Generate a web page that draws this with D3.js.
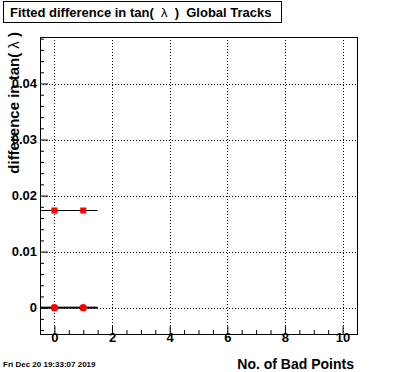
<!DOCTYPE html>
<html>
<head>
<script src="https://cdn.jsdelivr.net/npm/d3@7"></script>
<style>
  body { margin: 0; background: #fff; }
  text { font-family: "Liberation Sans", Arial, sans-serif; font-weight: bold; white-space: pre; }
  tspan.sym { font-weight: normal; }
</style>
</head>
<body>
<div id="chart"></div>
<script>
  // data
  var badPoints = [0, 1];
  var squareVals = [0.0174, 0.0174];   // red squares
  var circleVals = [0, 0];             // red circles
  var xErr = 0.5;

  var xTicks = [0, 2, 4, 6, 8, 10];
  var xTickLabels = ["0", "2", "4", "6", "8", "10"];
  var yTicks = [0, 0.01, 0.02, 0.03, 0.04];
  var yTickLabels = ["0", "0.01", "0.02", "0.03", "0.04"];

  var W = 396, H = 372;
  var frame = {left: 40, right: 357, top: 37, bottom: 334};

  var svg = d3.select("#chart").append("svg")
              .attr("width", W)
              .attr("height", H);

  var x = d3.scaleLinear().domain([-0.5, 10.5]).range([frame.left, frame.right]);
  var y = d3.scaleLinear().domain([-0.0047, 0.0483]).range([frame.bottom, frame.top]);

  // dotted grid at major ticks
  var grid = svg.append("g").attr("stroke", "#000").attr("stroke-width", 1)
                .attr("stroke-dasharray", "1,2");
  grid.selectAll(".gx").data(xTicks).enter().append("line")
      .attr("x1", function(d) { return Math.round(x(d)) + 0.5; })
      .attr("x2", function(d) { return Math.round(x(d)) + 0.5; })
      .attr("y1", frame.top).attr("y2", frame.bottom);
  grid.selectAll(".gy").data(yTicks).enter().append("line")
      .attr("y1", function(d) { return Math.round(y(d)) + 0.5; })
      .attr("y2", function(d) { return Math.round(y(d)) + 0.5; })
      .attr("x1", frame.left).attr("x2", frame.right);

  // minor ticks
  var xMinor = d3.range(-0.5, 10.51, 0.5).filter(function(v) { return xTicks.indexOf(v) < 0; });
  var yMinor = d3.range(-0.004, 0.0485, 0.002).filter(function(v) {
    return !yTicks.some(function(t) { return Math.abs(t - v) < 1e-9; });
  });

  var xAxis = svg.append("g")
      .attr("transform", "translate(0," + frame.bottom + ")")
      .call(d3.axisBottom(x).tickValues(xTicks).tickSize(-8).tickPadding(5)
              .tickFormat(function(d, i) { return xTickLabels[i]; }));
  xAxis.append("g").call(d3.axisBottom(x).tickValues(xMinor).tickSize(-4).tickFormat(""));

  var yAxis = svg.append("g")
      .attr("transform", "translate(" + frame.left + ",0)")
      .call(d3.axisLeft(y).tickValues(yTicks).tickSize(-8).tickPadding(3)
              .tickFormat(function(d, i) { return yTickLabels[i]; }));
  yAxis.append("g").call(d3.axisLeft(y).tickValues(yMinor).tickSize(-4).tickFormat(""));

  svg.selectAll(".domain").remove();
  svg.selectAll(".tick line").attr("stroke", "#000");
  xAxis.selectAll(".tick text").attr("font-size", 13).attr("fill", "#000").attr("dy", "0.2em");
  yAxis.selectAll(".tick text").attr("font-size", 13).attr("fill", "#000");

  // frame
  svg.append("rect")
     .attr("x", frame.left + 0.5).attr("y", frame.top + 0.5)
     .attr("width", frame.right - frame.left).attr("height", frame.bottom - frame.top)
     .attr("fill", "none").attr("stroke", "#000").attr("stroke-width", 1);

  // square series with x errors
  var sq = svg.append("g");
  sq.selectAll("line").data(badPoints).enter().append("line")
    .attr("x1", function(d) { return x(d - xErr); })
    .attr("x2", function(d) { return x(d + xErr); })
    .attr("y1", function(d, i) { return Math.round(y(squareVals[i])) + 0.5; })
    .attr("y2", function(d, i) { return Math.round(y(squareVals[i])) + 0.5; })
    .attr("stroke", "#000").attr("stroke-width", 1);
  sq.selectAll("rect").data(badPoints).enter().append("rect")
    .attr("x", function(d) { return x(d) - 3; })
    .attr("y", function(d, i) { return Math.round(y(squareVals[i])) + 0.5 - 3; })
    .attr("width", 6).attr("height", 6)
    .attr("fill", "#ff0000");

  // circle series with x errors
  var ci = svg.append("g");
  ci.selectAll("line").data(badPoints).enter().append("line")
    .attr("x1", function(d) { return x(d - xErr); })
    .attr("x2", function(d) { return x(d + xErr); })
    .attr("y1", function(d, i) { return y(circleVals[i]); })
    .attr("y2", function(d, i) { return y(circleVals[i]); })
    .attr("stroke", "#000").attr("stroke-width", 2);
  ci.selectAll("circle").data(badPoints).enter().append("circle")
    .attr("cx", function(d) { return x(d); })
    .attr("cy", function(d, i) { return y(circleVals[i]); })
    .attr("r", 3.7)
    .attr("fill", "#ff0000");

  // title box
  svg.append("rect")
     .attr("x", 3.5).attr("y", 1.5).attr("width", 278).attr("height", 21)
     .attr("fill", "#fff").attr("stroke", "#000");
  var title = svg.append("text")
     .attr("x", 10).attr("y", 16.5)
     .attr("font-size", 13);
  title.append("tspan").text("Fitted difference in tan( ");
  title.append("tspan").attr("class", "sym").text(" \u03bb ");
  title.append("tspan").text(" )  Global Tracks");

  // axis titles
  svg.append("text")
     .attr("x", frame.right - 3).attr("y", 369)
     .attr("text-anchor", "end")
     .attr("font-size", 14)
     .text("No. of Bad Points");

  var ylab = svg.append("text")
     .attr("transform", "translate(19,32) rotate(-90)")
     .attr("text-anchor", "end")
     .attr("font-size", 15);
  ylab.append("tspan").text("difference in tan( ");
  ylab.append("tspan").attr("class", "sym").text("\u03bb");
  ylab.append("tspan").text(" )");

  // date stamp
  svg.append("text")
     .attr("x", 3).attr("y", 367)
     .attr("font-size", 8)
     .text("Fri Dec 20 19:33:07 2019");
</script>
</body>
</html>
